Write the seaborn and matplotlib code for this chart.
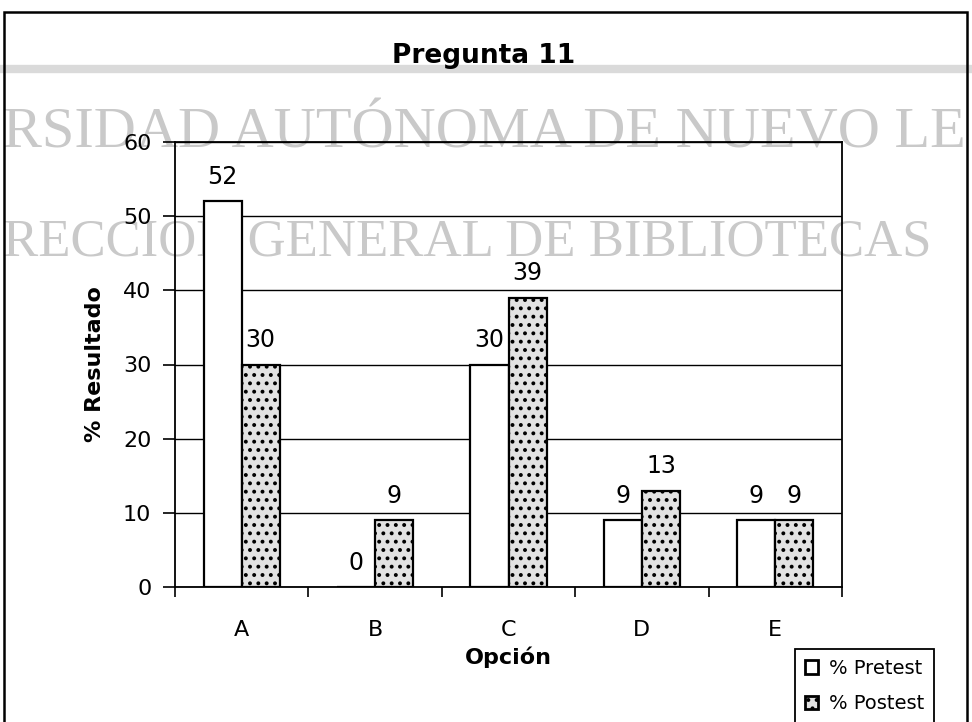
import matplotlib
matplotlib.use("Agg")
import matplotlib.pyplot as plt
import seaborn as sns
import pandas as pd
from matplotlib.patches import Rectangle, Patch
from matplotlib.lines import Line2D

# datos
opciones = ["A", "B", "C", "D", "E"]
pretest = [52, 0, 30, 9, 9]
postest = [30, 9, 39, 13, 9]
series = ["% Pretest", "% Postest"]
yticks = [0, 10, 20, 30, 40, 50, 60]

df = pd.DataFrame({
    "Opción": opciones * 2,
    "valor": pretest + postest,
    "serie": [series[0]] * len(opciones) + [series[1]] * len(opciones),
})

sns.set_theme(style="white")
plt.rcParams['font.family'] = ['DejaVu Sans']
plt.rcParams['hatch.linewidth'] = 1.6
plt.rcParams['text.color'] = 'black'
plt.rcParams['axes.labelcolor'] = 'black'
plt.rcParams['xtick.color'] = 'black'
plt.rcParams['ytick.color'] = 'black'

W, H = 972, 722
fig = plt.figure(figsize=(W / 100, H / 100), dpi=100)
fig.patch.set_facecolor("white")

# marca de agua del escaneo
fig.add_artist(Line2D([0, 1], [1 - 69 / H] * 2, color="#dadada", lw=6, zorder=-2))
fig.text(3 / W, 1 - 148 / H, "RSIDAD AUTÓNOMA DE NUEVO LE", family="Liberation Serif",
         fontsize=42, color="#c9c9c9", ha="left", va="baseline", zorder=-1)
fig.text(3 / W, 1 - 256 / H, "RECCION GENERAL DE BIBLIOTECAS", family="Liberation Serif",
         fontsize=38, color="#c9c9c9", ha="left", va="baseline", zorder=-1)

# marco exterior
fig.add_artist(Rectangle((4 / W, -0.05), (967 - 4) / W, 1.05 - 12 / H,
                         transform=fig.transFigure, fill=False, edgecolor="black", lw=1.8))

fig.text(484 / W, 1 - 56 / H, "Pregunta 11", fontsize=19, fontweight="bold",
         ha="center", va="center")

ax = fig.add_axes([175 / W, 1 - 587 / H, (842 - 175) / W, (587 - 142) / H])
ax.patch.set_alpha(0)

sns.barplot(data=df, x="Opción", y="valor", hue="serie", palette=["white", "#e2e2e2"],
            width=0.57, edgecolor="black", linewidth=1.6, legend=False, ax=ax)

for p in ax.containers[1]:
    p.set_hatch("..")

for c in ax.containers:
    ax.bar_label(c, padding=9, fontsize=17, color="black")

ax.set_xlim(-0.5, len(opciones) - 0.5)
ax.set_ylim(0, 60)
ax.set_yticks(yticks)
ax.set_axisbelow(True)
ax.yaxis.grid(True, color="black", lw=1)

for s in ax.spines.values():
    s.set_color("black")
    s.set_linewidth(1.3)

ax.tick_params(axis="y", length=9, width=1.2, color="black", pad=8, labelsize=16, left=True)
ax.tick_params(axis="x", which="major", length=0, pad=24, labelsize=16)
ax.set_xticks([i - 0.5 for i in range(len(opciones) + 1)], minor=True)
ax.tick_params(axis="x", which="minor", length=7, width=1.2, color="black", bottom=True)

ax.set_xlabel("Opción", fontsize=16, fontweight="bold")
ax.xaxis.set_label_coords(0.5, -(657 - 587) / 445)
ax.xaxis.label.set_va("center")
ax.set_ylabel("% Resultado", fontsize=16, fontweight="bold")
ax.yaxis.set_label_coords(-(175 - 95) / 667, 0.5)
ax.yaxis.label.set_va("center")

handles = [Patch(facecolor="white", edgecolor="black", lw=2),
           Patch(facecolor="#e2e2e2", edgecolor="black", lw=2, hatch="..")]
ax.legend(handles, series, loc="upper left", bbox_to_anchor=(795 / W, 1 - 649 / H),
          bbox_transform=fig.transFigure, borderaxespad=0, frameon=True, fancybox=False,
          edgecolor="black", fontsize=14, handlelength=0.7, handleheight=0.7,
          handletextpad=0.55, labelspacing=0.85, borderpad=0.5, framealpha=1)
ax.get_legend().get_frame().set_linewidth(1.3)

fig.savefig("out.png", dpi=100)
